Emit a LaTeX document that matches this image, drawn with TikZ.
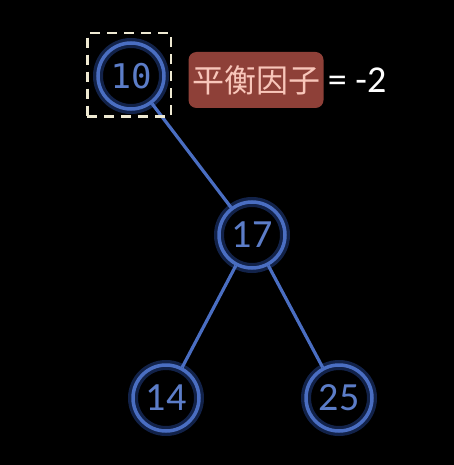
\documentclass[tikz,border=0pt]{standalone}
\usepackage{fontspec}
\setmainfont{Carlito}
\newfontfamily\cjk{Noto Sans CJK SC}
\newfontfamily\monof{DejaVu Sans Mono}
\usetikzlibrary{positioning}
\usetikzlibrary{fit}
\definecolor{nodeblue}{HTML}{4A6EC2}
\definecolor{numblue}{HTML}{5C7DC8}
\definecolor{glowblue}{HTML}{2F56B8}
\definecolor{tagred}{HTML}{8E4038}
\definecolor{tagtext}{HTML}{F8C6BA}
\definecolor{boxcream}{HTML}{EEE9D2}

\begin{document}
\begin{tikzpicture}[x=1pt,y=-1pt,
  treenode/.style={circle, minimum size=66pt, inner sep=0pt, draw=nodeblue, line width=3.5pt, text=numblue, font=\fontsize{40}{40}\selectfont},
  glow/.style={circle, minimum size=66pt, inner sep=0pt, draw=glowblue, line width=10pt, draw opacity=0.4},
  treeedge/.style={nodeblue, line width=3.2pt},
  tag/.style={fill=tagred, rounded corners=8pt, text=tagtext, minimum width=135pt, minimum height=56pt, inner sep=0pt, font=\cjk\fontsize{32}{32}\selectfont}
]

\fill[black] (0,0) rectangle (454,465);
\useasboundingbox (0,0) rectangle (454,465);

% glow under the circles
\node[glow] at (131,76) {};
\node[glow] at (252,235) {};
\node[glow] at (166,398) {};
\node[glow] at (339,398) {};

\node[treenode, font=\monof\fontsize{34}{34}\selectfont] (n10) at (131,76) {10};
\node[treenode] (n17) at (252,235) {17};
\node[treenode] (n14) at (166,398) {14};
\node[treenode] (n25) at (339,398) {25};

\draw[treeedge] (n10) -- (n17);
\draw[treeedge] (n17) -- (n14);
\draw[treeedge] (n17) -- (n25);

\node[draw=boxcream, line width=2.5pt, dash pattern=on 10pt off 7pt, inner sep=7pt, fit=(n10), xshift=-2pt, yshift=1pt] (sel) {};

\node[tag] (bf) at (256,80) {平衡因子};
\node[right=4pt of bf, text=white, inner sep=0pt, font=\fontsize{38}{38}\selectfont] (val) {= -2};

\end{tikzpicture}
\end{document}
